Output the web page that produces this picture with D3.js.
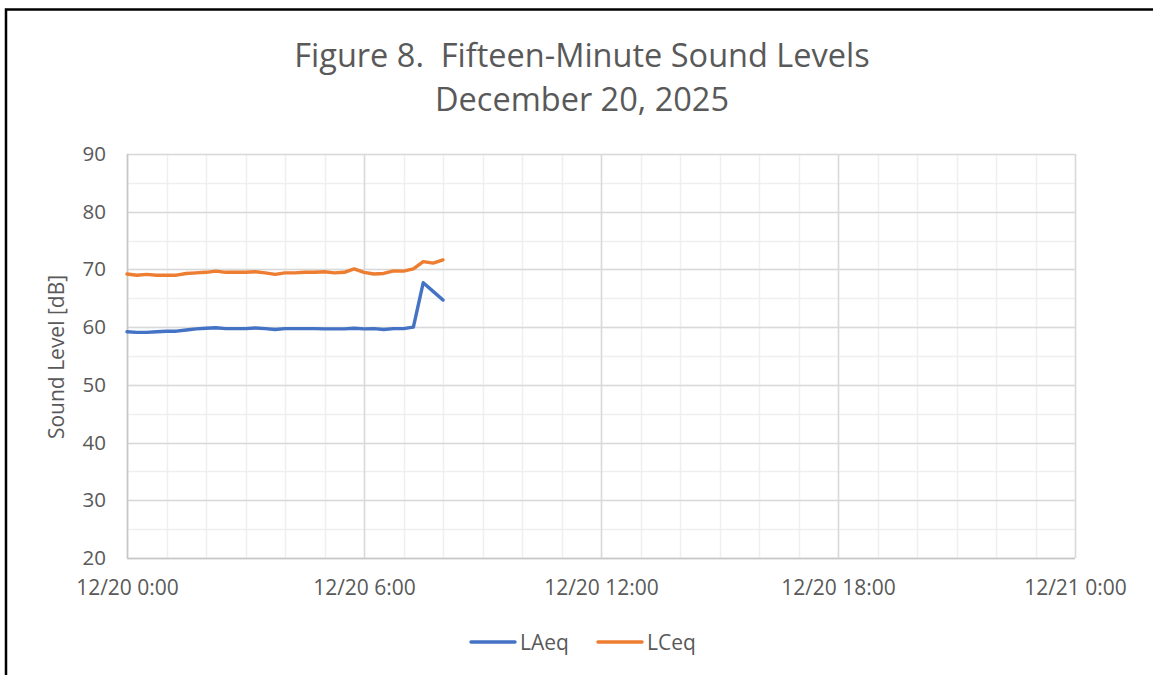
<!DOCTYPE html>
<html>
<head>
<meta charset="utf-8">
<script src="https://cdn.jsdelivr.net/npm/d3@7"></script>
<style>
  html, body { margin: 0; padding: 0; background: #fff; }
  svg { display: block; }
  text { font-family: "Open Sans", Lato, sans-serif; fill: #595959; white-space: pre; }
</style>
</head>
<body>
<svg id="chart" width="1153" height="675"></svg>
<script>
const titleLines = ["Figure 8.  Fifteen-Minute Sound Levels", "December 20, 2025"];
const yAxisTitle = "Sound Level [dB]";
const seriesNames = ["LAeq", "LCeq"];
const seriesColors = ["#4472C4", "#ED7D31"];

const times = [
  "2025-12-20 00:00","2025-12-20 00:15","2025-12-20 00:30","2025-12-20 00:45",
  "2025-12-20 01:00","2025-12-20 01:15","2025-12-20 01:30","2025-12-20 01:45",
  "2025-12-20 02:00","2025-12-20 02:15","2025-12-20 02:30","2025-12-20 02:45",
  "2025-12-20 03:00","2025-12-20 03:15","2025-12-20 03:30","2025-12-20 03:45",
  "2025-12-20 04:00","2025-12-20 04:15","2025-12-20 04:30","2025-12-20 04:45",
  "2025-12-20 05:00","2025-12-20 05:15","2025-12-20 05:30","2025-12-20 05:45",
  "2025-12-20 06:00","2025-12-20 06:15","2025-12-20 06:30","2025-12-20 06:45",
  "2025-12-20 07:00","2025-12-20 07:15","2025-12-20 07:30","2025-12-20 07:45",
  "2025-12-20 08:00"
];
const laeq = [59.2, 59.1, 59.1, 59.2, 59.3, 59.3, 59.5, 59.7, 59.8, 59.9, 59.75, 59.75,
              59.75, 59.85, 59.75, 59.6, 59.75, 59.75, 59.75, 59.75, 59.7, 59.7, 59.7, 59.8,
              59.7, 59.75, 59.6, 59.75, 59.75, 60.0, 67.7, 66.2, 64.7];
const lceq = [69.2, 69.0, 69.15, 69.0, 69.0, 69.0, 69.3, 69.4, 69.5, 69.7, 69.5, 69.5,
              69.5, 69.6, 69.4, 69.15, 69.4, 69.4, 69.5, 69.5, 69.6, 69.4, 69.5, 70.1,
              69.5, 69.2, 69.3, 69.75, 69.7, 70.1, 71.35, 71.1, 71.65];

const xDomain = ["2025-12-20 00:00", "2025-12-21 00:00"];
const xTickLabels = ["2025-12-20 00:00","2025-12-20 06:00","2025-12-20 12:00","2025-12-20 18:00","2025-12-21 00:00"];
const yDomain = [20, 90];
const yTicks = [20, 30, 40, 50, 60, 70, 80, 90];

const parse = d3.timeParse("%Y-%m-%d %H:%M");
const fmt = d3.timeFormat("%-m/%-d %-H:%M");

const svg = d3.select("#chart");
const plot = {left: 127, right: 1075, top: 154, bottom: 558};
const FONT = "'Open Sans', Lato, sans-serif";

const x = d3.scaleTime().domain(xDomain.map(parse)).range([plot.left, plot.right]);
const y = d3.scaleLinear().domain(yDomain).range([plot.bottom, plot.top]);

// outer border
svg.append("path")
  .attr("d", `M6,680 L6,9.5 L1160,9.5`)
  .attr("fill", "none").attr("stroke", "#000").attr("stroke-width", 2.5);

// minor grid
const minorX = d3.timeHour.range(parse(xDomain[0]), d3.timeHour.offset(parse(xDomain[1]), 1));
svg.append("g").selectAll("line").data(minorX).join("line")
  .attr("x1", d => Math.round(x(d)) + 0.5).attr("x2", d => Math.round(x(d)) + 0.5)
  .attr("y1", plot.top).attr("y2", plot.bottom)
  .attr("stroke", "#efefef").attr("stroke-width", 1.5);
const minorY = d3.range(yDomain[0], yDomain[1] + 0.1, 5);
svg.append("g").selectAll("line").data(minorY).join("line")
  .attr("x1", plot.left).attr("x2", plot.right)
  .attr("y1", d => Math.round(y(d)) + 0.5).attr("y2", d => Math.round(y(d)) + 0.5)
  .attr("stroke", "#efefef").attr("stroke-width", 1.5);

// major grid
svg.append("g").selectAll("line").data(xTickLabels.map(parse)).join("line")
  .attr("x1", d => Math.round(x(d)) + 0.5).attr("x2", d => Math.round(x(d)) + 0.5)
  .attr("y1", plot.top).attr("y2", plot.bottom)
  .attr("stroke", "#d9d9d9").attr("stroke-width", 1.5);
svg.append("g").selectAll("line").data(yTicks).join("line")
  .attr("x1", plot.left).attr("x2", plot.right)
  .attr("y1", d => Math.round(y(d)) + 0.5).attr("y2", d => Math.round(y(d)) + 0.5)
  .attr("stroke", "#d9d9d9").attr("stroke-width", 1.5);

// axes lines
svg.append("line").attr("x1", plot.left + 0.5).attr("x2", plot.left + 0.5)
  .attr("y1", plot.top).attr("y2", plot.bottom + 0.5).attr("stroke", "#c8c8c8").attr("stroke-width", 1.5);
svg.append("line").attr("x1", plot.left).attr("x2", plot.right)
  .attr("y1", plot.bottom + 0.5).attr("y2", plot.bottom + 0.5).attr("stroke", "#c8c8c8").attr("stroke-width", 1.5);

// y tick labels
const yAxis = d3.axisLeft(y).tickValues(yTicks).tickSize(0).tickPadding(21);
const gy = svg.append("g").attr("transform", `translate(${plot.left},0)`).call(yAxis);
gy.select(".domain").remove();
gy.selectAll("text").style("font-size", "20.5px").attr("fill", "#595959").style("font-family", FONT);

// x tick labels
const xAxis = d3.axisBottom(x).tickValues(xTickLabels.map(parse)).tickFormat(fmt).tickSize(0).tickPadding(22);
const gx = svg.append("g").attr("transform", `translate(0,${plot.bottom})`).call(xAxis);
gx.select(".domain").remove();
gx.selectAll("text").style("font-size", "21px").attr("fill", "#595959").style("font-family", FONT);

// series lines
const data = [laeq, lceq];
const line = d3.line().x((d, i) => x(parse(times[i]))).y(d => y(d));
data.forEach((vals, k) => {
  svg.append("path").datum(vals)
    .attr("d", line)
    .attr("fill", "none")
    .attr("stroke", seriesColors[k])
    .attr("stroke-width", 3.4)
    .attr("stroke-linejoin", "round")
    .attr("stroke-linecap", "round");
});

// title
svg.append("text").attr("x", 582).attr("y", 67).attr("text-anchor", "middle")
  .style("font-size", "32.5px").text(titleLines[0]);
svg.append("text").attr("x", 582).attr("y", 111).attr("text-anchor", "middle")
  .style("font-size", "32.5px").text(titleLines[1]);

// y axis title
svg.append("text")
  .attr("transform", `translate(64,357) rotate(-90)`)
  .attr("text-anchor", "middle")
  .style("font-size", "21px").text(yAxisTitle);

// legend
const legendX = [471, 598];
seriesNames.forEach((name, k) => {
  svg.append("line").attr("x1", legendX[k]).attr("x2", legendX[k] + 44)
    .attr("y1", 642).attr("y2", 642)
    .attr("stroke", seriesColors[k]).attr("stroke-width", 3.4).attr("stroke-linecap", "round");
  svg.append("text").attr("x", legendX[k] + 49).attr("y", 650)
    .style("font-size", "21px").text(name);
});
</script>
</body>
</html>
